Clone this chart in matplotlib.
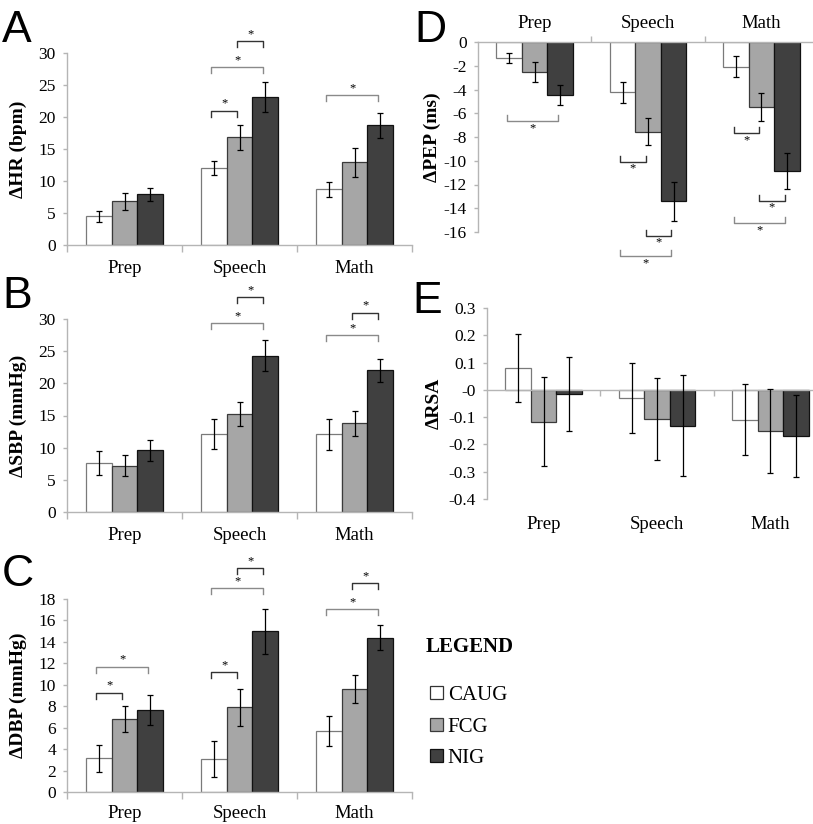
import matplotlib
matplotlib.use("Agg")
import matplotlib.pyplot as plt
from matplotlib.patches import Patch
from matplotlib.ticker import FuncFormatter
import numpy as np

plt.rcParams['font.family'] = ['Liberation Serif', 'DejaVu Serif']
plt.rcParams['axes.unicode_minus'] = False

conditions = ['Prep', 'Speech', 'Math']
groups = ['CAUG', 'FCG', 'NIG']

# rows = group (CAUG, FCG, NIG), columns = condition (Prep, Speech, Math)
hr_mean = [[4.5, 12.1, 8.7], [6.8, 16.8, 12.9], [7.9, 23.1, 18.7]]
hr_err = [[0.85, 1.1, 1.2], [1.4, 1.9, 2.2], [1.0, 2.35, 2.0]]

sbp_mean = [[7.6, 12.1, 12.1], [7.2, 15.2, 13.8], [9.6, 24.3, 22.0]]
sbp_err = [[1.85, 2.35, 2.4], [1.65, 1.9, 1.95], [1.6, 2.45, 1.8]]

dbp_mean = [[3.15, 3.1, 5.7], [6.8, 7.9, 9.6], [7.65, 15.0, 14.4]]
dbp_err = [[1.25, 1.67, 1.4], [1.25, 1.75, 1.27], [1.43, 2.1, 1.2]]

pep_mean = [[-1.35, -4.24, -2.08], [-2.5, -7.56, -5.5], [-4.47, -13.43, -10.87]]
pep_err = [[0.46, 0.91, 0.87], [0.85, 1.14, 1.18], [0.84, 1.64, 1.52]]

rsa_mean = [[0.08, -0.03, -0.11], [-0.116, -0.107, -0.151], [-0.014, -0.131, -0.169]]
rsa_err = [[0.124, 0.128, 0.13], [0.162, 0.15, 0.153], [0.136, 0.185, 0.15]]

# significance brackets: (condition, group a, group b, height)
hr_sig = [(1, 0, 1, 21.0), (1, 0, 2, 27.8), (1, 1, 2, 31.8), (2, 0, 2, 23.4)]
sbp_sig = [(1, 0, 2, 29.4), (1, 1, 2, 33.4), (2, 0, 2, 27.5), (2, 1, 2, 31.0)]
dbp_sig = [(0, 0, 1, 9.25), (0, 0, 2, 11.7), (1, 0, 1, 11.2), (1, 0, 2, 19.0),
           (1, 1, 2, 20.9), (2, 0, 2, 17.05), (2, 1, 2, 19.5)]
pep_sig = [(0, 0, 2, -6.66), (1, 0, 1, -10.08), (1, 1, 2, -16.3), (1, 0, 2, -18.06),
           (2, 0, 1, -7.67), (2, 1, 2, -13.37), (2, 0, 2, -15.25)]

colors = ['white', '#a6a6a6', '#404040']
edges = ['#7a7a7a', '#3a3a3a', '#111111']
width = 0.225
offsets = [-width, 0, width]
axis_grey = '#b5b5b5'

W, H = 813, 824
fig = plt.figure(figsize=(W / 100, H / 100), dpi=100)


def px_axes(left, top, right, bottom):
    return fig.add_axes([left / W, 1 - bottom / H, (right - left) / W, (bottom - top) / H])


def bars(ax, means, errs):
    x = np.arange(len(conditions))
    for g in range(len(groups)):
        ax.bar(x + offsets[g], means[g], width, color=colors[g], edgecolor=edges[g],
               linewidth=0.9, zorder=2)
        ax.errorbar(x + offsets[g], means[g], yerr=errs[g], fmt='none', ecolor='black',
                    elinewidth=0.9, capsize=2.5, capthick=0.9, zorder=3)


def style(ax, ylim, ticks, ylabel, label_x):
    ax.set_xlim(-0.5, 2.5)
    ax.set_ylim(*ylim)
    ax.set_yticks(ticks)
    ax.yaxis.set_major_formatter(FuncFormatter(lambda v, p: f"{round(v, 2):g}"))
    for s in ['top', 'right', 'bottom', 'left']:
        ax.spines[s].set_color(axis_grey)
        ax.spines[s].set_linewidth(1)
    ax.spines['top'].set_visible(False)
    ax.spines['right'].set_visible(False)
    ax.tick_params(axis='y', direction='out', length=3, width=1, color=axis_grey,
                   labelsize=12.5, pad=5)
    ax.set_xticks([-0.5, 0.5, 1.5, 2.5], minor=True)
    ax.tick_params(axis='x', which='minor', direction='out', length=5, width=1, color=axis_grey)
    ax.set_ylabel(ylabel, fontsize=14, fontweight='bold')
    ax.yaxis.set_label_coords(label_x, 0.5)


def brackets(ax, sig, down=True):
    lo, hi = ax.get_ylim()
    per_px = (hi - lo) / ax.bbox.height
    sgn = 1 if down else -1
    for cond, a, b, y in sig:
        x0 = cond + offsets[a] - 0.02
        x1 = cond + offsets[b] - 0.02
        c = '#8a8a8a' if b - a == 2 else '#333333'
        h = 6 * per_px * sgn
        ax.plot([x0, x0, x1, x1], [y - h, y, y, y - h], color=c, lw=1, clip_on=False, zorder=4)
        ax.text((x0 + x1) / 2, y + 7 * per_px * sgn, '*', ha='center', va='center',
                fontsize=9, clip_on=False)


# A: heart rate
axA = px_axes(67, 53, 412, 245)
bars(axA, hr_mean, hr_err)
style(axA, (0, 30), range(0, 31, 5), 'ΔHR (bpm)', -0.116)
brackets(axA, hr_sig)

# B: systolic blood pressure
axB = px_axes(67, 319, 412, 512)
bars(axB, sbp_mean, sbp_err)
style(axB, (0, 30), range(0, 31, 5), 'ΔSBP (mmHg)', -0.116)
brackets(axB, sbp_sig)

# C: diastolic blood pressure
axC = px_axes(67, 599, 412, 792)
bars(axC, dbp_mean, dbp_err)
style(axC, (0, 18), range(0, 19, 2), 'ΔDBP (mmHg)', -0.116)
brackets(axC, dbp_sig)

for ax, pad in [(axA, 11), (axB, 11), (axC, 9)]:
    ax.set_xticks(range(3), conditions)
    ax.tick_params(axis='x', which='major', length=0, labelsize=13.5, pad=pad)

# D: pre-ejection period (labels on top)
axD = px_axes(478, 42, 818, 232)
bars(axD, pep_mean, pep_err)
style(axD, (-16, 0), range(-16, 1, 2), 'ΔPEP (ms)', -0.11)
axD.spines['bottom'].set_visible(False)
axD.spines['top'].set_visible(True)
axD.xaxis.tick_top()
axD.set_xticks(range(3), conditions)
axD.set_xticks([0.5, 1.5], minor=True)
axD.tick_params(axis='x', which='major', length=0, labelsize=13.5, pad=7)
axD.tick_params(axis='x', which='minor', direction='out', length=4, color=axis_grey)
brackets(axD, pep_sig, down=False)

# E: respiratory sinus arrhythmia (axis line at zero, labels low)
axE = px_axes(487, 308, 827, 499)
bars(axE, rsa_mean, rsa_err)
style(axE, (-0.4, 0.3), np.round(np.arange(-0.4, 0.31, 0.1), 1), 'ΔRSA', -0.130)
axE.spines['bottom'].set_position(('data', 0))
axE.set_xticks([])
axE.set_xticks([0.5, 1.5], minor=True)
axE.tick_params(axis='x', which='minor', direction='out', length=4, color=axis_grey)
secE = axE.secondary_xaxis('bottom')
secE.set_xticks(range(3), conditions)
secE.spines['bottom'].set_visible(False)
secE.tick_params(length=0, labelsize=13.5, pad=12)

# panel letters
for letter, x, y in [('A', 2, 42), ('B', 2, 308), ('C', 2, 586), ('D', 414, 42), ('E', 412, 313)]:
    fig.text(x / W, 1 - y / H, letter, fontsize=32, family='Liberation Sans', va='baseline')

# legend
fig.text(426 / W, 1 - 647 / H, 'LEGEND', fontsize=15, fontweight='bold', va='center')
handles = [Patch(facecolor=colors[g], edgecolor=edges[g] if g else '#333333', linewidth=0.9)
           for g in range(len(groups))]
fig.legend(handles, groups, loc='upper left', bbox_to_anchor=(430 / W, 1 - 686 / H),
           frameon=False, fontsize=15, handlelength=0.6, handleheight=0.6,
           handletextpad=0.25, labelspacing=0.6, borderpad=0, borderaxespad=0)

fig.savefig('out.png', dpi=100)
